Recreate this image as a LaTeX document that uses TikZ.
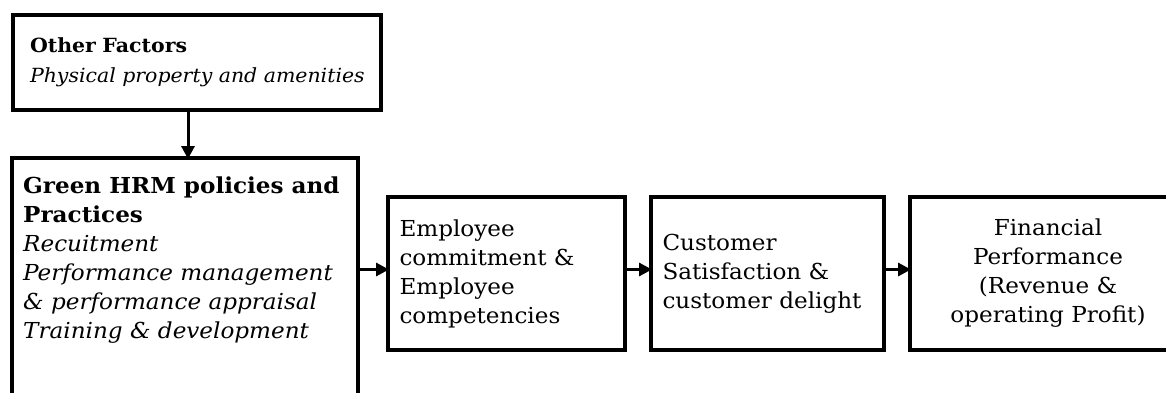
\documentclass[tikz,border=0pt]{standalone}
\usepackage{fontspec}
\setmainfont{DejaVu Serif}[FakeStretch=1.05]
\usetikzlibrary{arrows.meta}
\begin{document}
\begin{tikzpicture}[x=1pt,y=-1pt,
  box/.style={draw,line width=3.4pt,anchor=north west,inner sep=0pt,outer sep=0pt},
  txt/.style={font=\fontsize{22}{29}\selectfont,inner sep=0pt,align=left},
  arr/.style={line width=3pt,-{Triangle[length=13pt,width=13pt]},shorten >=-1pt}]
\useasboundingbox (0,0) rectangle (1166,392);
\clip (0,0) rectangle (1166,392);
\fill[white] (0,0) rectangle (1166,392);
\node[box,minimum width=368pt,minimum height=95pt,txt,text width=334pt,
  font=\fontsize{19.5}{30}\selectfont] (of) at (13,15)
  {\textbf{Other Factors}\\\mbox{\textit{Physical property and amenities}}};
\node[box,minimum width=346pt,minimum height=260pt] (hrm) at (12,158) {};
\node[txt,anchor=north west] (hrmt) at (23,177)
  {\textbf{Green HRM policies and}\\\textbf{Practices}\\
   \textit{Recuitment}\\\textit{Performance management}\\
   \textit{\& performance appraisal}\\\textit{Training \& development}};
\node[box,minimum width=237pt,minimum height=153pt,txt,text width=214pt] (emp) at (388,197)
  {Employee\\commitment \&\\Employee\\competencies};
\node[box,minimum width=233pt,minimum height=153pt,txt,text width=210pt] (cus) at (651,197)
  {Customer\\Satisfaction \&\\customer delight};
\node[box,minimum width=276pt,minimum height=153pt,txt,align=center,text width=250pt] (fin) at (910,197)
  {Financial\\Performance\\(Revenue \&\\operating Profit)};
\draw[arr] ([xshift=-9pt]of.south) -- ([xshift=-9pt]of.south |- hrm.north);
\draw[arr] ([yshift=4pt]emp.west -| hrm.east) -- ([yshift=4pt]emp.west);
\draw[arr] ([yshift=4pt]emp.east) -- ([yshift=4pt]cus.west);
\draw[arr] ([yshift=4pt]cus.east) -- ([yshift=4pt]fin.west);
\end{tikzpicture}
\end{document}
